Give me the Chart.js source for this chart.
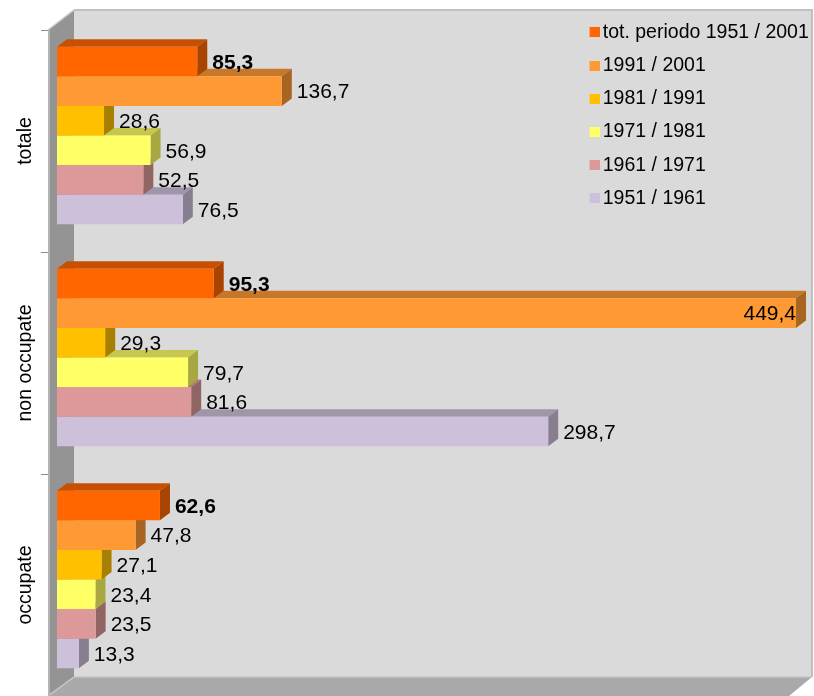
<!DOCTYPE html>
<html><head><meta charset="utf-8">
<style>html,body{margin:0;padding:0;background:#fff}canvas{display:block}</style>
<script src="https://cdn.jsdelivr.net/npm/chart.js@4"></script>
</head><body><canvas id="c" width="814" height="696"></canvas>
<script>
const categories = ['totale', 'non occupate', 'occupate'];
const seriesNames = ['tot. periodo 1951 / 2001', '1991 / 2001', '1981 / 1991', '1971 / 1981', '1961 / 1971', '1951 / 1961'];
const totPeriodo = [85.3, 95.3, 62.6];
const d1991 = [136.7, 449.4, 47.8];
const d1981 = [28.6, 29.3, 27.1];
const d1971 = [56.9, 79.7, 23.4];
const d1961 = [52.5, 81.6, 23.5];
const d1951 = [76.5, 298.7, 13.3];
const seriesValues = [totPeriodo, d1991, d1981, d1971, d1961, d1951];
const colors = ['#FF6600', '#FF9933', '#FFC000', '#FFFF66', '#DD9999', '#CCC0DA'];

const FONT = 'Liberation Sans, Arial, sans-serif';
const FS = 21;
const LEGEND_FS = 19.5;
const CAT_FS = 19.5;

function shade(hex, f) {
  const n = parseInt(hex.slice(1), 16);
  return 'rgb(' + [(n >> 16) & 255, (n >> 8) & 255, n & 255].map(v => Math.round(v * f)).join(',') + ')';
}
function poly(ctx, pts, fill, stroke) {
  ctx.beginPath();
  pts.forEach((p, i) => i ? ctx.lineTo(p[0], p[1]) : ctx.moveTo(p[0], p[1]));
  ctx.closePath();
  ctx.fillStyle = fill;
  ctx.fill();
  if (stroke) { ctx.strokeStyle = stroke; ctx.lineWidth = 1; ctx.stroke(); }
}
function swatch(color) {
  const c = document.createElement('canvas');
  c.width = 13; c.height = 10;
  const g = c.getContext('2d');
  g.fillStyle = color;
  g.fillRect(3, 0, 10, 10);
  return c;
}

const threeD = {
  id: 'threeD',
  beforeDraw(chart) {
    const ctx = chart.ctx, a = chart.chartArea, ys = chart.scales.y;
    const fl = a.left - 9, ft = a.top + 5.5, fb = a.bottom + 5.5;
    const bl = fl + 26, bt = ft - 20, bb = fb - 19, br = a.right + 15;
    ctx.save();
    poly(ctx, [[bl, bt], [br, bt], [br, bb], [bl, bb]], '#DADADA');
    ctx.strokeStyle = '#C0C0C0'; ctx.lineWidth = 2;
    ctx.beginPath(); ctx.moveTo(bl, bt); ctx.lineTo(br, bt); ctx.lineTo(br, bb); ctx.stroke();
    poly(ctx, [[bl, bb], [br, bb], [br - 23, fb], [fl, fb]], '#A9A9A9');
    ctx.strokeStyle = '#C4C4C4'; ctx.lineWidth = 1.5;
    ctx.beginPath(); ctx.moveTo(bl, bb); ctx.lineTo(br, bb); ctx.stroke();
    poly(ctx, [[fl, ft], [bl, bt], [bl, bb], [fl, fb]], '#949494');
    ctx.strokeStyle = '#C8C8C8'; ctx.lineWidth = 1.5;
    ctx.beginPath(); ctx.moveTo(fl, ft); ctx.lineTo(bl, bt); ctx.stroke();
    ctx.beginPath(); ctx.moveTo(fl, fb); ctx.lineTo(bl, bb); ctx.stroke();
    ctx.strokeStyle = '#B4B4B4'; ctx.lineWidth = 2;
    ctx.beginPath(); ctx.moveTo(fl + 1, ft); ctx.lineTo(fl + 1, fb); ctx.stroke();
    ctx.strokeStyle = '#8C8C8C'; ctx.lineWidth = 1;
    const band = (a.bottom - a.top) / categories.length;
    for (let i = 0; i <= categories.length; i++) {
      const y = Math.round(ft + i * band) + 0.5;
      ctx.beginPath(); ctx.moveTo(fl - 7, y); ctx.lineTo(fl, y); ctx.stroke();
    }
    ctx.restore();
    ys.getLabelItems(a).forEach(it => {
      it.options.textAlign = 'center';
      it.options.translation = [25.5, it.options.translation[1]];
    });
    if (!ys._shifted) {
      ys.getLabelItems(a).forEach(it => { it.options.translation[1] += 5.5; });
      ys._shifted = true;
    }
    const lg = chart.legend;
    lg.left = 579.3; lg.top = 9; lg.right = lg.left + lg.width; lg.bottom = lg.top + lg.height;
  },
  beforeDatasetDraw(chart, args) {
    const ctx = chart.ctx, color = colors[args.index], dx = 10, dy = 7.5;
    ctx.save();
    args.meta.data.forEach(bar => {
      const h = bar.height / 2, x0 = bar.base, x1 = bar.x, t = bar.y - h, b = bar.y + h;
      poly(ctx, [[x0, t], [x0 + dx, t - dy], [x1 + dx, t - dy], [x1, t]], shade(color, 0.78));
      poly(ctx, [[x1, t], [x1 + dx, t - dy], [x1 + dx, b - dy], [x1, b]], shade(color, 0.66));
    });
    ctx.restore();
  },
  afterDatasetsDraw(chart) {
    const ctx = chart.ctx;
    ctx.save();
    ctx.fillStyle = '#000';
    ctx.textBaseline = 'middle';
    chart.data.datasets.forEach((ds, di) => {
      ctx.font = (di === 0 ? 'bold ' : '') + FS + 'px ' + FONT;
      chart.getDatasetMeta(di).data.forEach((bar, i) => {
        const txt = ds.data[i].toFixed(1).replace('.', ',');
        const w = ctx.measureText(txt).width;
        const inside = bar.x + 15 + w > chart.width;
        ctx.textAlign = inside ? 'right' : 'left';
        ctx.fillText(txt, inside ? bar.x : bar.x + 15, bar.y + 1.5);
      });
    });
    ctx.restore();
  }
};

new Chart(document.getElementById('c'), {
  type: 'bar',
  data: {
    labels: categories,
    datasets: seriesNames.map((n, i) => ({
      label: n, data: seriesValues[i], backgroundColor: colors[i], borderWidth: 0
    }))
  },
  options: {
    indexAxis: 'y',
    responsive: false,
    animation: false,
    events: [],
    layout: { padding: { left: 0, right: 17, top: 24.5, bottom: 5.5 } },
    datasets: { bar: { barPercentage: 1, categoryPercentage: 0.8 } },
    scales: {
      x: { display: false, min: 0, max: 450 },
      y: {
        grid: { display: false },
        border: { display: false },
        afterFit(s) { s.width = 57; s.paddingTop = 0; s.paddingBottom = 0; },
        ticks: {
          autoSkip: false, minRotation: 90, maxRotation: 90, color: '#000',
          font: { family: FONT, size: CAT_FS }
        }
      }
    },
    plugins: {
      tooltip: { enabled: false },
      legend: {
        position: 'chartArea',
        align: 'start',
        labels: {
          usePointStyle: true, boxWidth: 0.01, boxHeight: 10,
          color: '#000', padding: 13.7,
          font: { family: FONT, size: LEGEND_FS },
          generateLabels(chart) {
            return Chart.defaults.plugins.legend.labels.generateLabels(chart)
              .map(l => Object.assign(l, { pointStyle: swatch(l.fillStyle), lineWidth: 0 }));
          }
        }
      }
    }
  },
  plugins: [threeD]
});
</script></body></html>
